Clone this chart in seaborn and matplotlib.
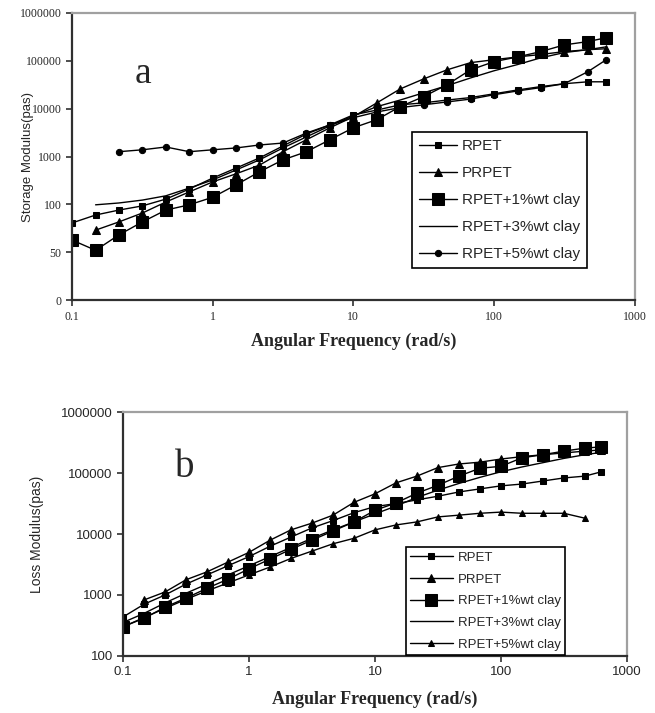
import numpy as np
import pandas as pd
import seaborn as sns
import matplotlib.pyplot as plt
from matplotlib.ticker import FixedLocator, FixedFormatter, NullLocator

# angular frequency (rad/s), same sweep for every sample
freq = [0.1, 0.147, 0.215, 0.316, 0.464, 0.681, 1, 1.47, 2.15, 3.16, 4.64, 6.81,
        10, 14.7, 21.5, 31.6, 46.4, 68.1, 100, 147, 215, 316, 464, 628]

labels = ["RPET", "PRPET", "RPET+1%wt clay", "RPET+3%wt clay", "RPET+5%wt clay"]

# (a) storage modulus
g1_rpet = [41, 60, 76, 93, 129, 209, 355, 575, 933, 1660, 2950, 4570, 7410, 9330,
           12000, 13200, 15100, 17000, 20400, 24500, 28800, 33100, 36300, 36300]
g1_prpet = [29, 43, 66, 112, 182, 295, 437, 661, 1260, 2240, 3980, 6760, 13200,
            25700, 41700, 64600, 91200, 105000, 120000, 135000, 155000, 170000, 178000]
g1_c1 = [18, 11, 23, 43, 76, 98, 141, 257, 479, 851, 1260, 2240, 3980, 5890, 11000,
         17800, 31600, 64600, 95500, 120000, 155000, 214000, 251000, 302000]
g1_c3 = [98, 107, 123, 151, 219, 324, 525, 851, 1510, 2570, 4370, 7080, 11000, 15100,
         21400, 30200, 43700, 61700, 83200, 115000, 148000, 170000, 195000]
g1_c5 = [1260, 1380, 1580, 1260, 1380, 1510, 1740, 1910, 3090, 4570, 6460, 8510, 10500,
         12000, 13800, 15800, 19500, 23400, 27500, 33100, 58900, 105000]

# (b) loss modulus
g2_rpet = [437, 708, 1000, 1510, 2140, 3020, 4270, 6310, 8910, 12600, 16600, 22400,
           28200, 31600, 36300, 41700, 49000, 55000, 61700, 66100, 74100, 83200, 89100, 105000]
g2_prpet = [832, 1120, 1780, 2400, 3470, 5010, 7940, 11700, 15100, 20400, 33100, 45700,
            69200, 89100, 123000, 141000, 151000, 170000, 186000, 200000, 214000, 229000, 240000]
g2_c1 = [302, 417, 631, 891, 1290, 1820, 2690, 3890, 5620, 7940, 11200, 15800, 24500,
         32400, 46800, 63100, 89100, 120000, 129000, 178000, 200000, 229000, 257000, 269000]
g2_c3 = [355, 501, 741, 1070, 1510, 2140, 3020, 4270, 6030, 8510, 11700, 15800, 21400,
         28800, 39800, 52500, 67600, 85100, 105000, 126000, 148000, 174000, 200000, 219000]
g2_c5 = [302, 427, 603, 851, 1170, 1580, 2140, 2880, 3980, 5250, 6920, 8510, 11700,
         14100, 15800, 19100, 20400, 21900, 22900, 21900, 21900, 21900, 18200]

top_ylabels = ["0", "50", "100", "1000", "10000", "100000", "1000000"]
bot_ylabels = ["100", "1000", "10000", "100000", "1000000"]
xticklabels = ["0.1", "1", "10", "100", "1000"]

sns.set_style("ticks")
plt.rcParams['font.family'] = ['Liberation Sans', 'DejaVu Sans']


def series(ax, ys, starts, styles):
    for y, s, lab, st in zip(ys, starts, labels, styles):
        x = freq[s:s + len(y)]
        sns.lineplot(x=x, y=y, ax=ax, color="black", linewidth=1.0, label=lab,
                     marker=st[0], markersize=st[1], markeredgecolor="black",
                     markerfacecolor="black", sort=False)


def frame(ax):
    for side in ["left", "bottom"]:
        ax.spines[side].set_color("#303030")
        ax.spines[side].set_linewidth(1.6)
    for side in ["top", "right"]:
        ax.spines[side].set_color("#a0a0a0")
        ax.spines[side].set_linewidth(1.6)
    ax.tick_params(which="major", length=4, width=1.2, color="#303030")
    ax.xaxis.set_minor_locator(NullLocator())
    ax.yaxis.set_minor_locator(NullLocator())


fig = plt.figure(figsize=(6.55, 7.13), dpi=100)

# ---- (a)
ax1 = fig.add_axes([0.110, 0.579, 0.859, 0.403])
series(ax1, [g1_rpet, g1_prpet, g1_c1, g1_c3, g1_c5], [0, 1, 0, 1, 2],
       [("s", 4), ("^", 6), ("s", 8), ("None", 0), ("o", 4.5)])
ax1.set_xscale("log")
ax1.set_yscale("log")
ax1.set_xlim(0.1, 1000)
ax1.set_ylim(1, 1e6)
frame(ax1)
ax1.yaxis.set_major_locator(FixedLocator([1, 10, 100, 1e3, 1e4, 1e5, 1e6]))
ax1.yaxis.set_major_formatter(FixedFormatter(top_ylabels))
ax1.xaxis.set_major_locator(FixedLocator([0.1, 1, 10, 100, 1000]))
ax1.xaxis.set_major_formatter(FixedFormatter(xticklabels))
for t in ax1.get_xticklabels() + ax1.get_yticklabels():
    t.set_family("Liberation Serif")
    t.set_fontsize(8.5)
ax1.set_xlabel("Angular Frequency (rad/s)", family="Liberation Serif",
               fontweight="bold", fontsize=13, labelpad=7)
ax1.set_ylabel("Storage Modulus(pas)", fontsize=9.5)
ax1.yaxis.set_label_coords(-0.068, 0.5)
ax1.text(0.112, 0.756, "a", transform=ax1.transAxes, family="Liberation Serif",
         fontsize=27, va="baseline", ha="left")
ax1.legend(loc="upper left", bbox_to_anchor=(0.604, 0.585), fontsize=11,
           frameon=True, fancybox=False, edgecolor="black", framealpha=1,
           handlelength=2.5, handletextpad=0.3, labelspacing=0.85, borderpad=0.45,
           numpoints=1, borderaxespad=0).get_frame().set_linewidth(1.2)

# ---- (b)
ax2 = fig.add_axes([0.188, 0.080, 0.769, 0.342])
series(ax2, [g2_rpet, g2_prpet, g2_c1, g2_c3, g2_c5], [0, 1, 0, 0, 0],
       [("s", 4), ("^", 6), ("s", 8), ("None", 0), ("^", 4.5)])
ax2.set_xscale("log")
ax2.set_yscale("log")
ax2.set_xlim(0.1, 1000)
ax2.set_ylim(100, 1e6)
frame(ax2)
ax2.yaxis.set_major_locator(FixedLocator([100, 1e3, 1e4, 1e5, 1e6]))
ax2.yaxis.set_major_formatter(FixedFormatter(bot_ylabels))
ax2.xaxis.set_major_locator(FixedLocator([0.1, 1, 10, 100, 1000]))
ax2.xaxis.set_major_formatter(FixedFormatter(xticklabels))
for t in ax2.get_xticklabels() + ax2.get_yticklabels():
    t.set_fontsize(9.5)
ax2.set_xlabel("Angular Frequency (rad/s)", family="Liberation Serif",
               fontweight="bold", fontsize=13, labelpad=9)
ax2.set_ylabel("Loss Modulus(pas)", fontsize=10)
ax2.yaxis.set_label_coords(-0.158, 0.5)
ax2.text(0.103, 0.734, "b", transform=ax2.transAxes, family="Liberation Serif",
         fontsize=28, va="baseline", ha="left")
ax2.legend(loc="upper left", bbox_to_anchor=(0.561, 0.447), fontsize=9.5,
           frameon=True, fancybox=False, edgecolor="black", framealpha=1,
           handlelength=3.2, handletextpad=0.4, labelspacing=0.72, borderpad=0.35,
           numpoints=1, borderaxespad=0).get_frame().set_linewidth(1.2)

fig.savefig("out.png", dpi=100)
